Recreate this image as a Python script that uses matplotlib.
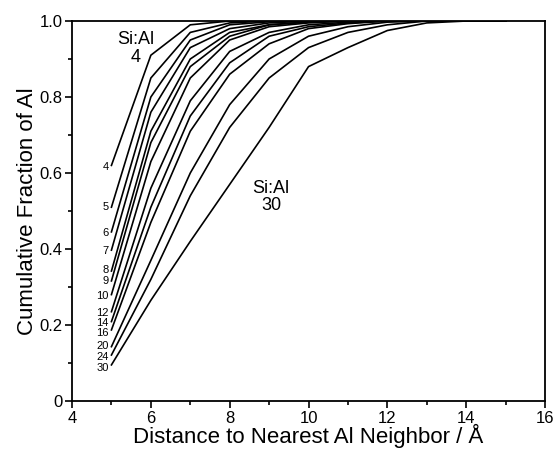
import matplotlib.pyplot as plt
from matplotlib.ticker import MultipleLocator, FixedFormatter, FixedLocator

plt.rcParams['font.family'] = ['Liberation Sans', 'DejaVu Sans']

# distance to nearest Al neighbour (Angstrom)
distance = [5, 6, 7, 8, 9, 10, 11, 12, 13, 14, 15]

# Si:Al ratios and cumulative fraction curves
ratios = [4, 5, 6, 7, 8, 9, 10, 12, 14, 16, 20, 24, 30]
frac_4 = [0.62, 0.91, 0.99, 1.0, 1.0, 1.0, 1.0, 1.0, 1.0, 1.0, 1.0]
frac_5 = [0.51, 0.85, 0.97, 0.995, 1.0, 1.0, 1.0, 1.0, 1.0, 1.0, 1.0]
frac_6 = [0.445, 0.80, 0.95, 0.99, 0.998, 1.0, 1.0, 1.0, 1.0, 1.0, 1.0]
frac_7 = [0.397, 0.76, 0.93, 0.98, 0.995, 1.0, 1.0, 1.0, 1.0, 1.0, 1.0]
frac_8 = [0.342, 0.71, 0.90, 0.97, 0.99, 0.998, 1.0, 1.0, 1.0, 1.0, 1.0]
frac_9 = [0.316, 0.68, 0.88, 0.96, 0.99, 0.997, 1.0, 1.0, 1.0, 1.0, 1.0]
frac_10 = [0.28, 0.63, 0.85, 0.95, 0.985, 0.995, 1.0, 1.0, 1.0, 1.0, 1.0]
frac_12 = [0.235, 0.56, 0.79, 0.92, 0.97, 0.99, 0.997, 1.0, 1.0, 1.0, 1.0]
frac_14 = [0.209, 0.51, 0.75, 0.89, 0.96, 0.985, 0.995, 1.0, 1.0, 1.0, 1.0]
frac_16 = [0.187, 0.47, 0.71, 0.86, 0.94, 0.98, 0.993, 1.0, 1.0, 1.0, 1.0]
frac_20 = [0.143, 0.37, 0.60, 0.78, 0.90, 0.96, 0.985, 0.997, 1.0, 1.0, 1.0]
frac_24 = [0.121, 0.32, 0.54, 0.72, 0.85, 0.93, 0.97, 0.99, 1.0, 1.0, 1.0]
frac_30 = [0.095, 0.265, 0.42, 0.57, 0.72, 0.88, 0.93, 0.975, 0.995, 1.0, 1.0]

curves = [frac_4, frac_5, frac_6, frac_7, frac_8, frac_9, frac_10,
          frac_12, frac_14, frac_16, frac_20, frac_24, frac_30]

# where the small ratio labels sit (y) next to the start of each curve
label_y = [0.615, 0.511, 0.442, 0.396, 0.345, 0.315, 0.276,
           0.232, 0.205, 0.178, 0.145, 0.116, 0.087]

fig = plt.figure(figsize=(5.57, 4.49), dpi=100)
ax = fig.add_axes([0.1293, 0.1069, 0.8492, 0.8463])

for r, ys, ly in zip(ratios, curves, label_y):
    ax.plot(distance, ys, color='black', lw=1.2)
    ax.text(4.93, ly, str(r), ha='right', va='center', fontsize=8)

ax.text(5.62, 0.951, 'Si:Al', ha='center', va='center', fontsize=13)
ax.text(5.62, 0.905, '4', ha='center', va='center', fontsize=13)
ax.text(9.05, 0.56, 'Si:Al', ha='center', va='center', fontsize=13)
ax.text(9.05, 0.515, '30', ha='center', va='center', fontsize=13)

ax.set_xlim(4, 16)
ax.set_ylim(0, 1.0)
ax.xaxis.set_major_locator(MultipleLocator(2))
ax.xaxis.set_minor_locator(MultipleLocator(1))
ax.yaxis.set_major_locator(FixedLocator([0, 0.2, 0.4, 0.6, 0.8, 1.0]))
ax.yaxis.set_major_formatter(FixedFormatter(['0', '0.2', '0.4', '0.6', '0.8', '1.0']))
ax.yaxis.set_minor_locator(MultipleLocator(0.1))
ax.tick_params(which='both', direction='out', top=False, right=False, width=1.2)
ax.tick_params(which='major', length=5, labelsize=12, pad=2)
ax.tick_params(which='minor', length=3)
for s in ax.spines.values():
    s.set_linewidth(1.3)

ax.set_xlabel('Distance to Nearest Al Neighbor / Å', fontsize=16, labelpad=-1)
ax.set_ylabel('Cumulative Fraction of Al', fontsize=16, labelpad=1)

fig.savefig('out.png', dpi=100)
